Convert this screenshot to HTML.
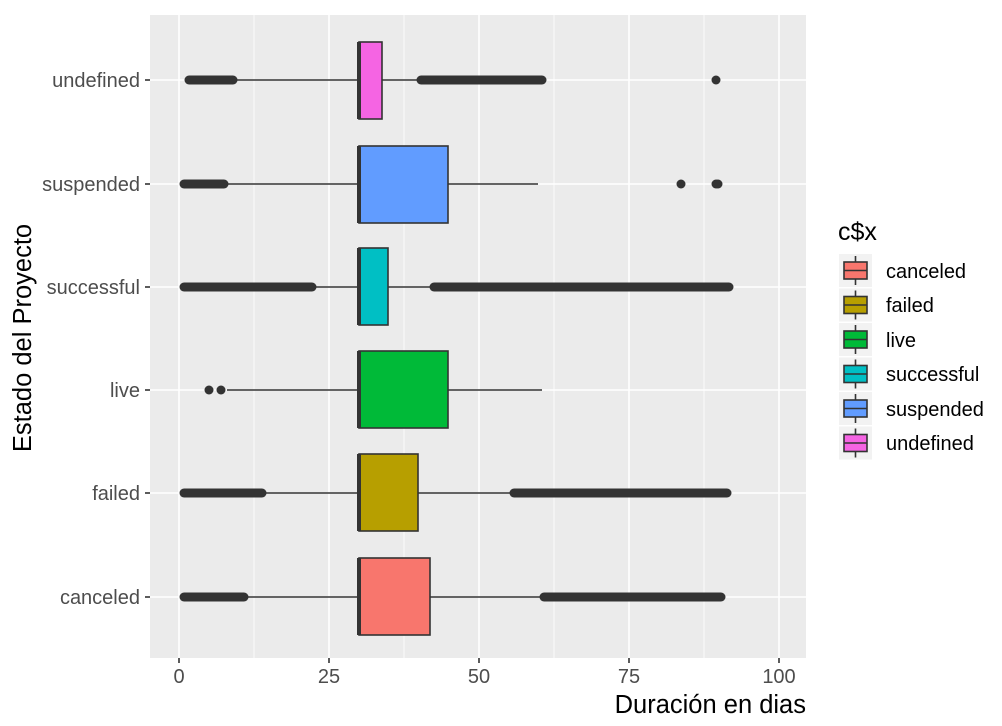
<!DOCTYPE html>
<html><head><meta charset="utf-8"><style>
html,body{margin:0;padding:0;background:#fff;}
svg{display:block;font-family:"Liberation Sans",Arial,sans-serif;}
</style></head><body>
<svg width="1002" height="726" viewBox="0 0 1002 726" xmlns="http://www.w3.org/2000/svg">
<rect x="150" y="15" width="656" height="643" fill="#ebebeb"/>
<g stroke="#fff" stroke-width="0.8">
<line x1="254" y1="15" x2="254" y2="658"/><line x1="404" y1="15" x2="404" y2="658"/>
<line x1="554" y1="15" x2="554" y2="658"/><line x1="704" y1="15" x2="704" y2="658"/>
</g>
<g stroke="#fff" stroke-width="1.6">
<line x1="179" y1="15" x2="179" y2="658"/><line x1="329" y1="15" x2="329" y2="658"/>
<line x1="479" y1="15" x2="479" y2="658"/><line x1="629" y1="15" x2="629" y2="658"/>
<line x1="779" y1="15" x2="779" y2="658"/>
<line x1="150" y1="80" x2="806" y2="80"/><line x1="150" y1="184" x2="806" y2="184"/>
<line x1="150" y1="287" x2="806" y2="287"/><line x1="150" y1="390" x2="806" y2="390"/>
<line x1="150" y1="493" x2="806" y2="493"/><line x1="150" y1="597" x2="806" y2="597"/>
</g>
<g stroke="#333" stroke-width="1.6">
<line x1="233" y1="80" x2="421" y2="80"/>
<line x1="226" y1="184" x2="538" y2="184"/>
<line x1="314" y1="287" x2="432" y2="287"/>
<line x1="227" y1="390" x2="542" y2="390"/>
<line x1="264" y1="493" x2="512" y2="493"/>
<line x1="246" y1="597" x2="542" y2="597"/>
</g>
<g stroke="#333" stroke-width="9" stroke-linecap="round">
<line x1="189" y1="80" x2="233" y2="80"/><line x1="421" y1="80" x2="542" y2="80"/>
<line x1="184" y1="184" x2="224" y2="184"/>
<line x1="184" y1="287" x2="312" y2="287"/><line x1="434" y1="287" x2="729" y2="287"/>
<line x1="184" y1="493" x2="262" y2="493"/><line x1="514" y1="493" x2="727" y2="493"/>
<line x1="184" y1="597" x2="244" y2="597"/><line x1="544" y1="597" x2="721" y2="597"/>
</g>
<g fill="#333">
<circle cx="716" cy="80" r="4.5"/>
<circle cx="681" cy="184" r="4.5"/><circle cx="716" cy="184" r="4.5"/><circle cx="718" cy="184" r="4.5"/>
<circle cx="209" cy="390" r="4.5"/><circle cx="221" cy="390" r="4.5"/>
</g>
<g stroke="#333" stroke-width="1.6">
<rect x="359" y="42" width="23" height="77" fill="#f564e3"/>
<rect x="359" y="146" width="89" height="77" fill="#619cff"/>
<rect x="359" y="248" width="29" height="77" fill="#00bfc4"/>
<rect x="359" y="351" width="89" height="77" fill="#00ba38"/>
<rect x="359" y="454" width="59" height="77" fill="#b79f00"/>
<rect x="359" y="558" width="71" height="77" fill="#f8766d"/>
</g>
<g stroke="#333" stroke-width="4">
<line x1="359" y1="42" x2="359" y2="119"/><line x1="359" y1="146" x2="359" y2="223"/>
<line x1="359" y1="248" x2="359" y2="325"/><line x1="359" y1="351" x2="359" y2="428"/>
<line x1="359" y1="454" x2="359" y2="531"/><line x1="359" y1="558" x2="359" y2="635"/>
</g>
<g stroke="#333" stroke-width="1.6">
<line x1="145" y1="80" x2="150" y2="80"/><line x1="145" y1="184" x2="150" y2="184"/>
<line x1="145" y1="287" x2="150" y2="287"/><line x1="145" y1="390" x2="150" y2="390"/>
<line x1="145" y1="493" x2="150" y2="493"/><line x1="145" y1="597" x2="150" y2="597"/>
<line x1="179" y1="658" x2="179" y2="663"/><line x1="329" y1="658" x2="329" y2="663"/>
<line x1="479" y1="658" x2="479" y2="663"/><line x1="629" y1="658" x2="629" y2="663"/>
<line x1="779" y1="658" x2="779" y2="663"/>
</g>
<g fill="#4d4d4d" font-size="20" text-anchor="end">
<text x="140" y="87">undefined</text><text x="140" y="191">suspended</text>
<text x="140" y="294">successful</text><text x="140" y="397">live</text>
<text x="140" y="500">failed</text><text x="140" y="604">canceled</text>
</g>
<g fill="#4d4d4d" font-size="20" text-anchor="middle">
<text x="179" y="683">0</text><text x="329" y="683">25</text><text x="479" y="683">50</text>
<text x="629" y="683">75</text><text x="779" y="683">100</text>
</g>
<text x="806" y="713" font-size="25.5" text-anchor="end" fill="#000">Duración en dias</text>
<text transform="translate(31,338) rotate(-90)" font-size="25.5" text-anchor="middle" fill="#000">Estado del Proyecto</text>
<text x="838" y="240" font-size="25" fill="#000">c$x</text>
<g stroke="#333" stroke-width="1.6">
<g transform="translate(839,254)"><rect width="33" height="33" fill="#f2f2f2" stroke="none"/><line x1="16.5" y1="2" x2="16.5" y2="31"/><rect x="5" y="8" width="23" height="17" fill="#f8766d"/><line x1="5" y1="16.5" x2="28" y2="16.5"/></g>
<g transform="translate(839,288.5)"><rect width="33" height="33" fill="#f2f2f2" stroke="none"/><line x1="16.5" y1="2" x2="16.5" y2="31"/><rect x="5" y="8" width="23" height="17" fill="#b79f00"/><line x1="5" y1="16.5" x2="28" y2="16.5"/></g>
<g transform="translate(839,323)"><rect width="33" height="33" fill="#f2f2f2" stroke="none"/><line x1="16.5" y1="2" x2="16.5" y2="31"/><rect x="5" y="8" width="23" height="17" fill="#00ba38"/><line x1="5" y1="16.5" x2="28" y2="16.5"/></g>
<g transform="translate(839,357.5)"><rect width="33" height="33" fill="#f2f2f2" stroke="none"/><line x1="16.5" y1="2" x2="16.5" y2="31"/><rect x="5" y="8" width="23" height="17" fill="#00bfc4"/><line x1="5" y1="16.5" x2="28" y2="16.5"/></g>
<g transform="translate(839,392)"><rect width="33" height="33" fill="#f2f2f2" stroke="none"/><line x1="16.5" y1="2" x2="16.5" y2="31"/><rect x="5" y="8" width="23" height="17" fill="#619cff"/><line x1="5" y1="16.5" x2="28" y2="16.5"/></g>
<g transform="translate(839,426.5)"><rect width="33" height="33" fill="#f2f2f2" stroke="none"/><line x1="16.5" y1="2" x2="16.5" y2="31"/><rect x="5" y="8" width="23" height="17" fill="#f564e3"/><line x1="5" y1="16.5" x2="28" y2="16.5"/></g>
</g>
<g font-size="20" fill="#000">
<text x="886" y="278">canceled</text><text x="886" y="312">failed</text>
<text x="886" y="347">live</text><text x="886" y="381">successful</text>
<text x="886" y="416">suspended</text><text x="886" y="450">undefined</text>
</g>
</svg>
</body></html>
